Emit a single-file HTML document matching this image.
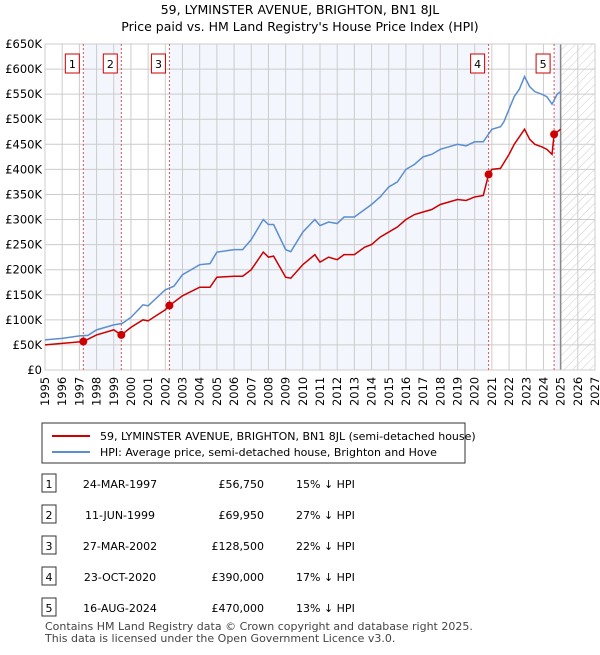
<!DOCTYPE html>
<html><head><meta charset="utf-8"><style>
body{margin:0;background:#fff;font-family:"Liberation Sans","DejaVu Sans",sans-serif;}
svg text{font-family:"DejaVu Sans","Liberation Sans",sans-serif;}
</style></head><body>
<svg id="c" width="600" height="650" viewBox="0 0 600 650">
<defs><pattern id="hatch" width="6" height="6" patternUnits="userSpaceOnUse" patternTransform="rotate(45)"><line x1="0" y1="0" x2="0" y2="6" stroke="#ccc" stroke-width="1"/></pattern></defs>
<text x="300" y="14" text-anchor="middle" font-size="12.5">59, LYMINSTER AVENUE, BRIGHTON, BN1 8JL</text>
<text x="300" y="31" text-anchor="middle" font-size="12.5">Price paid vs. HM Land Registry's House Price Index (HPI)</text>
<g id="plot"></g>
<g id="legend">
<rect x="42" y="423" width="423" height="40" fill="#fff" stroke="#333"/>
<line x1="52" y1="436" x2="90" y2="436" stroke="#cc0000" stroke-width="2"/>
<text x="100" y="440" font-size="11">59, LYMINSTER AVENUE, BRIGHTON, BN1 8JL (semi-detached house)</text>
<line x1="52" y1="452" x2="90" y2="452" stroke="#5b8ed0" stroke-width="2"/>
<text x="100" y="456" font-size="11">HPI: Average price, semi-detached house, Brighton and Hove</text>
</g>
<g id="table" font-size="11"></g>
<text x="45" y="630" font-size="11" fill="#444">Contains HM Land Registry data © Crown copyright and database right 2025.</text>
<text x="45" y="642" font-size="11" fill="#444">This data is licensed under the Open Government Licence v3.0.</text>
</svg>
<script>
const hpiYears=[1995,1996,1997,1997.5,1998,1999,1999.5,2000,2000.7,2001,2002,2002.5,2003,2004,2004.6,2005,2006,2006.5,2007,2007.7,2008,2008.3,2009,2009.3,2010,2010.7,2011,2011.5,2012,2012.4,2013,2013.6,2014,2014.5,2015,2015.5,2016,2016.5,2017,2017.5,2018,2018.5,2019,2019.5,2020,2020.5,2021,2021.5,2021.7,2022,2022.3,2022.6,2022.9,2023.2,2023.5,2023.9,2024.2,2024.5,2024.8,2025];
const hpiValues=[60,63,68,69,80,90,93,105,130,128,160,167,190,210,212,235,240,240,260,300,290,290,240,236,275,300,288,295,292,305,305,320,330,345,365,375,400,410,425,430,440,445,450,447,455,455,480,485,495,520,545,560,585,565,555,550,545,530,550,555];
const priceYears=[1995,1996,1997,1997.23,1998,1999,1999.44,2000,2000.7,2001,2002,2002.24,2003,2004,2004.6,2005,2006,2006.5,2007,2007.7,2008,2008.3,2009,2009.3,2010,2010.7,2011,2011.5,2012,2012.4,2013,2013.6,2014,2014.5,2015,2015.5,2016,2016.5,2017,2017.5,2018,2018.5,2019,2019.5,2020,2020.5,2020.81,2021,2021.5,2022,2022.3,2022.6,2022.9,2023.2,2023.5,2023.9,2024.2,2024.5,2024.62,2025];
const priceValues=[50,53,56,56.75,70,80,69.95,85,100,98,120,128.5,148,165,165,185,187,187,200,235,225,227,185,183,210,230,215,225,220,230,230,245,250,265,275,285,300,310,315,320,330,335,340,338,345,348,390,400,402,430,450,465,480,460,450,445,440,430,470,480];
const saleYears=[1997.23,1999.44,2002.24,2020.81,2024.62];
const saleValues=[56.75,69.95,128.5,390,470];
const saleLabels=["1","2","3","4","5"];
const yTicks=[0,50,100,150,200,250,300,350,400,450,500,550,600,650];
const yTickLabels=["£0","£50K","£100K","£150K","£200K","£250K","£300K","£350K","£400K","£450K","£500K","£550K","£600K","£650K"];
const xTicks=[1995,1996,1997,1998,1999,2000,2001,2002,2003,2004,2005,2006,2007,2008,2009,2010,2011,2012,2013,2014,2015,2016,2017,2018,2019,2020,2021,2022,2023,2024,2025,2026,2027];
const tDates=["24-MAR-1997","11-JUN-1999","27-MAR-2002","23-OCT-2020","16-AUG-2024"];
const tPrices=["£56,750","£69,950","£128,500","£390,000","£470,000"];
const tPct=["15% ↓ HPI","27% ↓ HPI","22% ↓ HPI","17% ↓ HPI","13% ↓ HPI"];
const X0=45,X1=595,Y0=370,Y1=44;
const xs=y=>X0+(y-1995)/(2027-1995)*(X1-X0);
const ys=v=>Y0-v/650*(Y0-Y1);
const NS="http://www.w3.org/2000/svg";
const plot=document.getElementById('plot');
function mk(tag,attrs,parent){const e=document.createElementNS(NS,tag);for(const k in attrs)e.setAttribute(k,attrs[k]);(parent||plot).appendChild(e);return e;}
[[saleYears[0],saleYears[1]],[saleYears[2],saleYears[3]],[saleYears[4],2025]].forEach(b=>{
 const r=mk('rect',{x:xs(b[0]),y:Y1,width:xs(b[1])-xs(b[0]),height:Y0-Y1,fill:'#f3f6fd'});
 
 
});
const h=mk('rect',{x:xs(2025),y:Y1,width:X1-xs(2025),height:Y0-Y1,fill:'url(#hatch)'});


yTicks.forEach((v,i)=>{
 mk('line',{x1:X0,x2:X1,y1:ys(v),y2:ys(v),stroke:'#ccc'});
 const t=mk('text',{x:X0-3,y:ys(v)+4,'text-anchor':'end','font-size':'11.5'});t.textContent=yTickLabels[i];
 
 
});
xTicks.forEach(y=>{
 mk('line',{x1:xs(y),x2:xs(y),y1:Y1,y2:Y0,stroke:'#ccc'});
 const s=String(y);
 const cx=xs(y)+4;
 const xl=[],yl=[];
 for(let k=0;k<s.length;k++){xl.push(cx.toFixed(1));yl.push((406-k*7.3).toFixed(1));}
 const t=mk('text',{x:xl.join(' '),y:yl.join(' '),rotate:'-90','font-size':'11.5'});t.textContent=s;
 
 
});
mk('line',{x1:xs(2025),x2:xs(2025),y1:Y1,y2:Y0,stroke:'#888','stroke-width':1.5});
mk('rect',{x:X0,y:Y1,width:X1-X0,height:Y0-Y1,fill:'none',stroke:'#ccc'});
saleYears.forEach((y,i)=>{
 mk('line',{x1:xs(y),x2:xs(y),y1:Y1,y2:Y0,stroke:'#e05050','stroke-dasharray':'2,2'});
 const g=mk('g',{});
 
 
 mk('rect',{x:xs(y)-18,y:54,width:14,height:19,fill:'#fff',stroke:'#cc0000'},g);
 const t=mk('text',{x:xs(y)-11,y:68,'text-anchor':'middle','font-size':'11'},g);t.textContent=saleLabels[i];
});
const hp=mk('polyline',{points:hpiYears.map((y,i)=>xs(y)+','+ys(hpiValues[i])).join(' '),fill:'none',stroke:'#5b8ed0','stroke-width':1.5});


const pp=mk('polyline',{points:priceYears.map((y,i)=>xs(y)+','+ys(priceValues[i])).join(' '),fill:'none',stroke:'#cc0000','stroke-width':1.5});


saleYears.forEach((y,i)=>{
 const c=mk('circle',{cx:xs(y),cy:ys(saleValues[i]),r:4,fill:'#cc0000'});
 
 
});
const tb=document.getElementById('table');
const rowY=[484,515,546,577,608];
rowY.forEach((ry,i)=>{
 const g=mk('g',{},tb);
 
 
 mk('rect',{x:42,y:ry-10,width:14,height:18,fill:'#fff',stroke:'#333'},g);
 let t=mk('text',{x:49,y:ry+4,'text-anchor':'middle'},g);t.textContent=saleLabels[i];
 t=mk('text',{x:120,y:ry+4,'text-anchor':'middle'},g);t.textContent=tDates[i];
 t=mk('text',{x:264,y:ry+4,'text-anchor':'end'},g);t.textContent=tPrices[i];
 t=mk('text',{x:296,y:ry+4},g);t.textContent=tPct[i];
});
</script>
</body></html>
